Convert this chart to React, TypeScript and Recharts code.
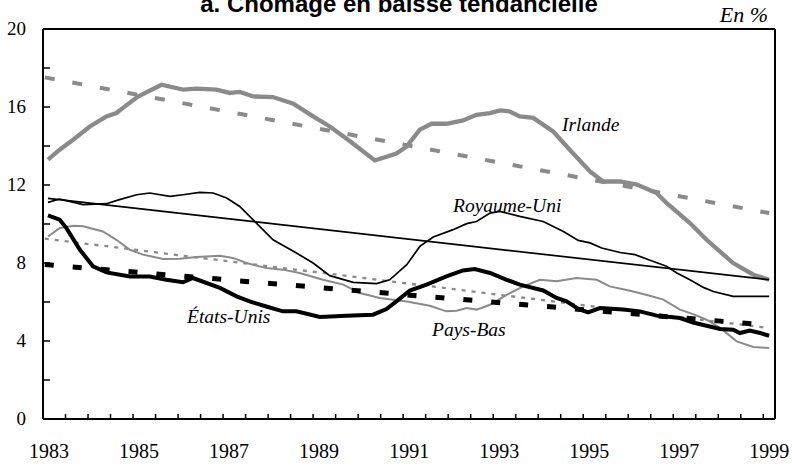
import React from 'react';
import { LineChart, Line, XAxis, YAxis, ReferenceLine } from 'recharts';

// [year, unemployment rate %]
const irlande: [number, number][] = [
  [1983.11, 13.3], [1983.37, 13.81], [1983.67, 14.32], [1984.04, 15.0], [1984.41, 15.52],
  [1984.63, 15.69], [1984.82, 16.03], [1985.11, 16.54], [1985.63, 17.14], [1986.11, 16.89],
  [1986.41, 16.94], [1986.85, 16.89], [1987.15, 16.72], [1987.37, 16.77], [1987.67, 16.54],
  [1988.11, 16.51], [1988.56, 16.17], [1989.0, 15.52], [1989.37, 15.0], [1989.82, 14.24],
  [1990.37, 13.26], [1990.85, 13.61], [1991.08, 13.98], [1991.37, 14.84], [1991.63, 15.14],
  [1991.96, 15.14], [1992.33, 15.31], [1992.63, 15.6], [1992.93, 15.69], [1993.15, 15.83],
  [1993.37, 15.77], [1993.59, 15.52], [1993.89, 15.44], [1994.33, 14.75], [1994.7, 13.81],
  [1995.15, 12.7], [1995.44, 12.18], [1995.82, 12.18], [1996.19, 12.02], [1996.63, 11.59],
  [1996.85, 11.08], [1997.37, 10.05], [1997.74, 9.19], [1998.33, 8.0], [1998.78, 7.4],
  [1999.13, 7.14],
];

const royaumeUni: [number, number][] = [
  [1983.11, 11.11], [1983.37, 11.28], [1983.59, 11.16], [1983.89, 10.99], [1984.41, 11.04],
  [1984.7, 11.25], [1985.08, 11.5], [1985.37, 11.59], [1985.82, 11.42], [1986.11, 11.5],
  [1986.48, 11.62], [1986.78, 11.59], [1987.08, 11.33], [1987.37, 10.9], [1987.74, 10.05],
  [1988.11, 9.19], [1988.63, 8.51], [1989.0, 8.0], [1989.37, 7.35], [1989.89, 7.01],
  [1990.41, 6.94], [1990.7, 7.14], [1991.08, 7.91], [1991.37, 8.85], [1991.67, 9.33],
  [1992.11, 9.71], [1992.41, 10.02], [1992.63, 10.13], [1992.93, 10.56], [1993.15, 10.65],
  [1993.59, 10.39], [1994.11, 10.13], [1994.56, 9.62], [1994.89, 9.16], [1995.15, 9.03],
  [1995.41, 8.77], [1995.82, 8.54], [1996.15, 8.43], [1996.56, 8.08], [1996.85, 7.83],
  [1997.08, 7.49], [1997.37, 7.14], [1997.67, 6.75], [1997.89, 6.54], [1998.33, 6.29],
  [1998.78, 6.29], [1999.13, 6.29],
];

const etatsUnis: [number, number][] = [
  [1983.11, 10.44], [1983.37, 10.22], [1983.52, 9.79], [1983.82, 8.68], [1984.11, 7.83],
  [1984.41, 7.52], [1984.93, 7.31], [1985.37, 7.31], [1985.74, 7.14], [1986.11, 7.01],
  [1986.33, 7.23], [1986.93, 6.72], [1987.3, 6.29], [1987.59, 6.03], [1987.96, 5.77],
  [1988.33, 5.52], [1988.63, 5.52], [1989.15, 5.23], [1989.74, 5.3], [1990.33, 5.35],
  [1990.63, 5.64], [1990.85, 6.03], [1991.15, 6.59], [1991.52, 6.89], [1991.96, 7.31],
  [1992.33, 7.62], [1992.59, 7.69], [1992.93, 7.49], [1993.3, 7.14], [1993.59, 6.89],
  [1994.11, 6.59], [1994.41, 6.21], [1994.63, 6.03], [1994.89, 5.64], [1995.11, 5.47],
  [1995.37, 5.69], [1995.89, 5.61], [1996.26, 5.52], [1996.63, 5.3], [1997.15, 5.18],
  [1997.44, 4.95], [1997.74, 4.78], [1998.04, 4.62], [1998.33, 4.58], [1998.48, 4.41],
  [1998.7, 4.54], [1998.93, 4.41], [1999.13, 4.27],
];

const paysBas: [number, number][] = [
  [1983.11, 9.36], [1983.37, 9.79], [1983.67, 9.91], [1983.89, 9.88], [1984.33, 9.62],
  [1984.63, 9.19], [1984.93, 8.68], [1985.22, 8.43], [1985.67, 8.21], [1986.04, 8.22],
  [1986.41, 8.31], [1986.93, 8.37], [1987.22, 8.26], [1987.52, 8.0], [1987.96, 7.74],
  [1988.33, 7.66], [1988.7, 7.49], [1989.22, 7.14], [1989.67, 6.89], [1990.04, 6.46],
  [1990.48, 6.21], [1991.08, 6.03], [1991.59, 5.81], [1991.96, 5.52], [1992.19, 5.55],
  [1992.41, 5.69], [1992.63, 5.61], [1992.93, 5.86], [1993.3, 6.37], [1993.67, 6.8],
  [1994.04, 7.14], [1994.41, 7.06], [1994.85, 7.23], [1995.3, 7.14], [1995.59, 6.8],
  [1996.04, 6.58], [1996.48, 6.32], [1996.78, 6.12], [1997.15, 5.61], [1997.44, 5.38],
  [1997.74, 5.09], [1998.04, 4.67], [1998.41, 3.98], [1998.78, 3.69], [1999.13, 3.64],
];

const irlandeTrend: [number, number][] = [[1983.04, 17.52], [1999.13, 10.56]];
const royaumeUniTrend: [number, number][] = [[1983.11, 11.31], [1999.13, 7.14]];
const etatsUnisTrend: [number, number][] = [[1983.04, 7.92], [1999.13, 4.81]];
const paysBasTrend: [number, number][] = [[1983.04, 9.25], [1999.13, 4.66]];

const xTicks: number[] = [
  1983, 1983.5, 1984, 1984.5, 1985, 1985.5, 1986, 1986.5, 1987, 1987.5, 1988, 1988.5,
  1989, 1989.5, 1990, 1990.5, 1991, 1991.5, 1992, 1992.5, 1993, 1993.5, 1994, 1994.5,
  1995, 1995.5, 1996, 1996.5, 1997, 1997.5, 1998, 1998.5, 1999,
];
const xLabelYears: number[] = [1983, 1985, 1987, 1989, 1991, 1993, 1995, 1997, 1999];
const yTicks: number[] = [0, 2, 4, 6, 8, 10, 12, 14, 16, 18, 20];
const yLabelValues: number[] = [0, 4, 8, 12, 16, 20];

const title = 'a. Chômage en baisse tendancielle';
const unitLabel = 'En %';
const seriesLabels = {
  irlande: 'Irlande',
  royaumeUni: 'Royaume-Uni',
  etatsUnis: 'États-Unis',
  paysBas: 'Pays-Bas',
};

const toRows = (pts: [number, number][]) => pts.map(([t, v]) => ({ t, v }));

const GRAY = '#8a8a8a';
const SERIF = 'Liberation Serif';
const SANS = 'Liberation Sans';

const XTick = (props: any) => {
  const { x, y, payload } = props;
  const v = payload.value;
  const show = xLabelYears.some((yr) => Math.abs(yr - v) < 1e-6);
  return (
    <g>
      <line x1={x} y1={y} x2={x} y2={y - 5} stroke="#000" strokeWidth={1.5} />
      {show && (
        <text x={x + 6} y={y + 39} textAnchor="middle" style={{ fontFamily: SERIF }} fontSize={20} fill="#000">
          {String(v)}
        </text>
      )}
    </g>
  );
};

const YTick = (props: any) => {
  const { x, y, payload } = props;
  const v = payload.value;
  const show = yLabelValues.includes(v);
  return (
    <g>
      {v !== 0 && v !== 20 && <line x1={x} y1={y} x2={x + 7} y2={y} stroke="#000" strokeWidth={1.5} />}
      {show && (
        <text x={x - 17} y={y + 6} textAnchor="end" style={{ fontFamily: SERIF }} fontSize={19} fill="#000">
          {String(v)}
        </text>
      )}
    </g>
  );
};

export default function App() {
  return (
    <div style={{ position: 'absolute', left: 0, top: 0, width: 792, height: 467, background: '#fff' }}>
      <LineChart width={792} height={467} margin={{ top: 29, right: 17, bottom: 0, left: 0 }}>
        <XAxis
          dataKey="t"
          type="number"
          domain={[1983, 1999.26]}
          ticks={xTicks}
          interval={0}
          allowDataOverflow
          height={48}
          tickSize={0}
          tickMargin={0}
          tickLine={false}
          axisLine={{ stroke: '#000', strokeWidth: 2 }}
          tick={<XTick />}
        />
        <YAxis
          type="number"
          domain={[0, 20]}
          ticks={yTicks}
          interval={0}
          allowDataOverflow
          width={43}
          tickSize={0}
          tickMargin={0}
          tickLine={false}
          axisLine={{ stroke: '#000', strokeWidth: 2 }}
          tick={<YTick />}
        />
        <ReferenceLine y={20} stroke="#000" strokeWidth={2} ifOverflow="visible" />
        <ReferenceLine x={1999.26} stroke="#000" strokeWidth={2} ifOverflow="visible" />

        <Line data={toRows(paysBasTrend)} dataKey="v" stroke={GRAY} strokeWidth={2.3} strokeDasharray="4 6" dot={false} isAnimationActive={false} type="linear" />
        <Line data={toRows(paysBas)} dataKey="v" stroke={GRAY} strokeWidth={2} dot={false} isAnimationActive={false} type="linear" />
        <Line data={toRows(irlandeTrend)} dataKey="v" stroke={GRAY} strokeWidth={4} strokeDasharray="10 18" dot={false} isAnimationActive={false} type="linear" />
        <Line data={toRows(irlande)} dataKey="v" stroke={GRAY} strokeWidth={4.3} dot={false} isAnimationActive={false} type="linear" />
        <Line data={toRows(royaumeUniTrend)} dataKey="v" stroke="#000" strokeWidth={1.7} dot={false} isAnimationActive={false} type="linear" />
        <Line data={toRows(royaumeUni)} dataKey="v" stroke="#000" strokeWidth={1.7} dot={false} isAnimationActive={false} type="linear" />
        <Line data={toRows(etatsUnisTrend)} dataKey="v" stroke="#000" strokeWidth={5} strokeDasharray="9 19" dot={false} isAnimationActive={false} type="linear" />
        <Line data={toRows(etatsUnis)} dataKey="v" stroke="#000" strokeWidth={4} dot={false} isAnimationActive={false} type="linear" />
      </LineChart>
      <svg width={792} height={467} style={{ position: 'absolute', left: 0, top: 0, pointerEvents: 'none' }}>
        <text x={399} y={12} textAnchor="middle" style={{ fontFamily: SANS, fontWeight: 'bold', fontSize: 24 }} fill="#000">{title}</text>
        <text x={768} y={22} textAnchor="end" style={{ fontFamily: SERIF, fontStyle: 'italic', fontSize: 22 }} fill="#000">{unitLabel}</text>
        <text x={562} y={131} style={{ fontFamily: SERIF, fontStyle: 'italic', fontSize: 19.5 }} fill="#000">{seriesLabels.irlande}</text>
        <text x={453} y={212} style={{ fontFamily: SERIF, fontStyle: 'italic', fontSize: 19.5 }} fill="#000">{seriesLabels.royaumeUni}</text>
        <text x={187} y={323} style={{ fontFamily: SERIF, fontStyle: 'italic', fontSize: 19.5 }} fill="#000">{seriesLabels.etatsUnis}</text>
        <text x={432} y={336} style={{ fontFamily: SERIF, fontStyle: 'italic', fontSize: 19.5 }} fill="#000">{seriesLabels.paysBas}</text>
      </svg>
    </div>
  );
}
